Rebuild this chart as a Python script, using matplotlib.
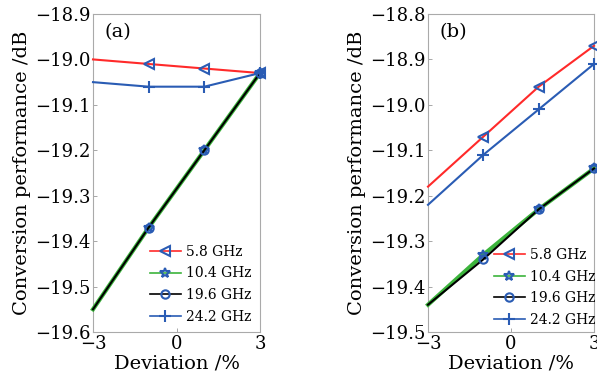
import matplotlib.pyplot as plt
from matplotlib.lines import Line2D
import numpy as np

plt.rcParams['font.family'] = 'DejaVu Serif'
plt.rcParams['mathtext.fontset'] = 'dejavuserif'

# deviation points (%)
deviation = [-3, -1, 1, 3]

labels = ['5.8 GHz', '10.4 GHz', '19.6 GHz', '24.2 GHz']

# (a) conversion performance / dB
a_58 = [-19.00, -19.01, -19.02, -19.03]
a_104 = [-19.55, -19.37, -19.20, -19.03]
a_196 = [-19.55, -19.37, -19.20, -19.03]
a_242 = [-19.05, -19.06, -19.06, -19.03]

# (b) conversion performance / dB
b_58 = [-19.18, -19.07, -18.96, -18.87]
b_104 = [-19.44, -19.33, -19.23, -19.14]
b_196 = [-19.44, -19.34, -19.23, -19.14]
b_242 = [-19.22, -19.11, -19.01, -18.91]

mk = '#2a5cb4'
styles = [
    dict(color='#ff2a2a', lw=1.5, marker='<', ms=7),
    dict(color='#3cb43c', lw=3.0, marker='*', ms=7),
    dict(color='black', lw=1.5, marker='o', ms=6),
    dict(color='#2a5cb4', lw=1.5, marker='+', ms=8),
]

fig = plt.figure(figsize=(5.97, 3.80), dpi=100)
ax1 = fig.add_axes([93/597, 1-332/380, 167/597, 318/380])
ax2 = fig.add_axes([428/597, 1-332/380, 166/597, 318/380])

panels = [(ax1, [a_58, a_104, a_196, a_242], '(a)', (-19.6, -18.9), (1.0, 0.0)),
          (ax2, [b_58, b_104, b_196, b_242], '(b)', (-19.5, -18.8), (1.06, -0.01))]

# thin legend handles, marker sits in the middle
handles = [Line2D([], [], color=st['color'], lw=1.2, marker=st['marker'],
                  ms=st['ms'], mfc='none', mec=mk, mew=1.5)
           for st in styles]

for ax, series, tag, ylim, anchor in panels:
    for y, lab, st in zip(series, labels, styles):
        ax.plot(deviation, y, label=lab, color=st['color'], lw=st['lw'],
                marker=st['marker'], ms=st['ms'], mfc='none', mec=mk,
                mew=1.5, markevery=[1, 2, 3], clip_on=False, zorder=3)
    ax.set_xlim(-3, 3)
    ax.set_ylim(*ylim)
    ax.set_xticks([-3, 0, 3])
    ax.set_yticks(np.round(np.arange(ylim[0], ylim[1] + 0.01, 0.1), 1))
    ax.yaxis.set_major_formatter(plt.FuncFormatter(lambda v, p: f'\u2212{abs(v):.1f}'))
    ax.xaxis.set_major_formatter(plt.FuncFormatter(lambda v, p: f'\u2212{abs(v):.0f}' if v < 0 else f'{v:.0f}'))
    ax.tick_params(direction='in', length=3, width=0.6, color='#999999', labelsize=13, pad=2)
    for s in ax.spines.values():
        s.set_color('#aaaaaa')
        s.set_linewidth(0.8)
    ax.set_xlabel('Deviation /%', fontsize=14, labelpad=1)
    ax.set_ylabel('Conversion performance /dB', fontsize=14, labelpad=3)
    ax.text(0.07, 0.97, tag, transform=ax.transAxes, fontsize=14, va='top', ha='left')
    ax.legend(handles, labels, loc='lower right', bbox_to_anchor=anchor,
              frameon=False, fontsize=10, handlelength=2.2, handletextpad=0.4,
              labelspacing=0.55, borderaxespad=0.2)

fig.savefig('out.png', dpi=100)
